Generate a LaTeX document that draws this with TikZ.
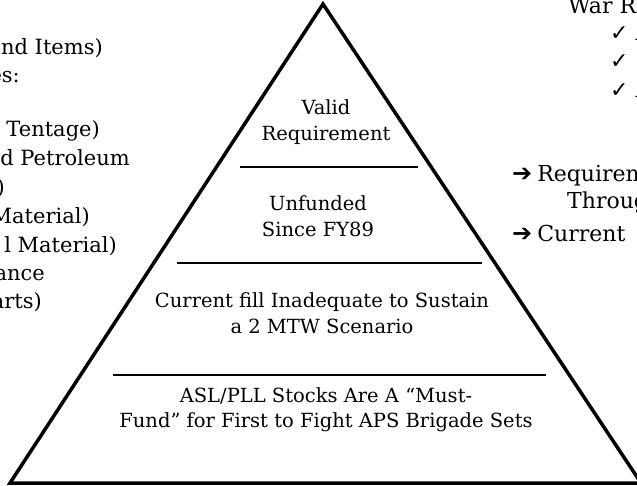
\documentclass[tikz,border=0pt]{standalone}
\usepackage{fontspec}
\setmainfont{DejaVu Serif}
\newfontfamily\symbfont{DejaVu Sans}
\tikzset{
  tiertext/.style={align=center, inner sep=0pt, font=\fontsize{19.5}{25.5}\selectfont},
  lefttext/.style={inner sep=0pt, anchor=base east, font=\fontsize{21}{25.5}\selectfont},
  righttext/.style={inner sep=0pt, anchor=base west, font=\fontsize{22}{25.5}\selectfont},
  tierline/.style={line width=2.5pt}
}
\newcommand{\bigarrow}{{\symbfont\bfseries\fontsize{24}{24}\selectfont ➔}\hspace{5pt}}
\newcommand{\tick}{{\symbfont ✓}}
\begin{document}
\begin{tikzpicture}[x=1pt,y=-1pt]
 \useasboundingbox (0,0) rectangle (637,485);

 % pyramid
 \draw[line width=3.5pt, line join=miter] (10,483) -- (323,4) -- (641,483) -- cycle;

 \draw[tierline] (240,167) -- (418,167);
 \draw[tierline] (177,263) -- (482,263);
 \draw[tierline] (113,375) -- (546,375);

 \node[tiertext] (valid) at (326,122) {Valid\\Requirement};
 \node[tiertext] (unfunded) at (318,216) {Unfunded\\Since FY89};
 \node[tiertext] (fill) at (322,313) {Current fill Inadequate to Sustain\\a 2 MTW Scenario};
 \node[tiertext] (asl) at (326,410) {ASL/PLL Stocks Are A “Must-\\Fund” for First to Fight APS Brigade Sets};

 % left list (runs off the page)
 \node[lefttext] (items) at (103,54) {nd Items)};
 \node[lefttext] (classes) at (20,82) {es:};
 \node[lefttext] (tent) at (100,136) {Tentage)};
 \node[lefttext] (petrol) at (130,165) {d Petroleum};
 \node[lefttext] (paren) at (5,194) {)};
 \node[lefttext] (matA) at (90,223) {Material)};
 \node[lefttext] (matB) at (117,252) {l Material)};
 \node[lefttext] (ance) at (45,280) {ance};
 \node[lefttext] (parts) at (42,308) {arts)};

 % right list (runs off the page)
 \node[righttext] (war) at (568,13) {War R};
 \node[righttext] (chkA) at (610,40) {\tick\ A};
 \node[righttext] (chkB) at (610,68) {\tick\ (};
 \node[righttext] (chkC) at (610,97) {\tick\ A};
 \node[righttext] (req) at (512,181) {\bigarrow Requirem};
 \node[righttext] (thru) at (567,208) {Throug};
 \node[righttext] (cur) at (512,241) {\bigarrow Current};
\end{tikzpicture}
\end{document}
